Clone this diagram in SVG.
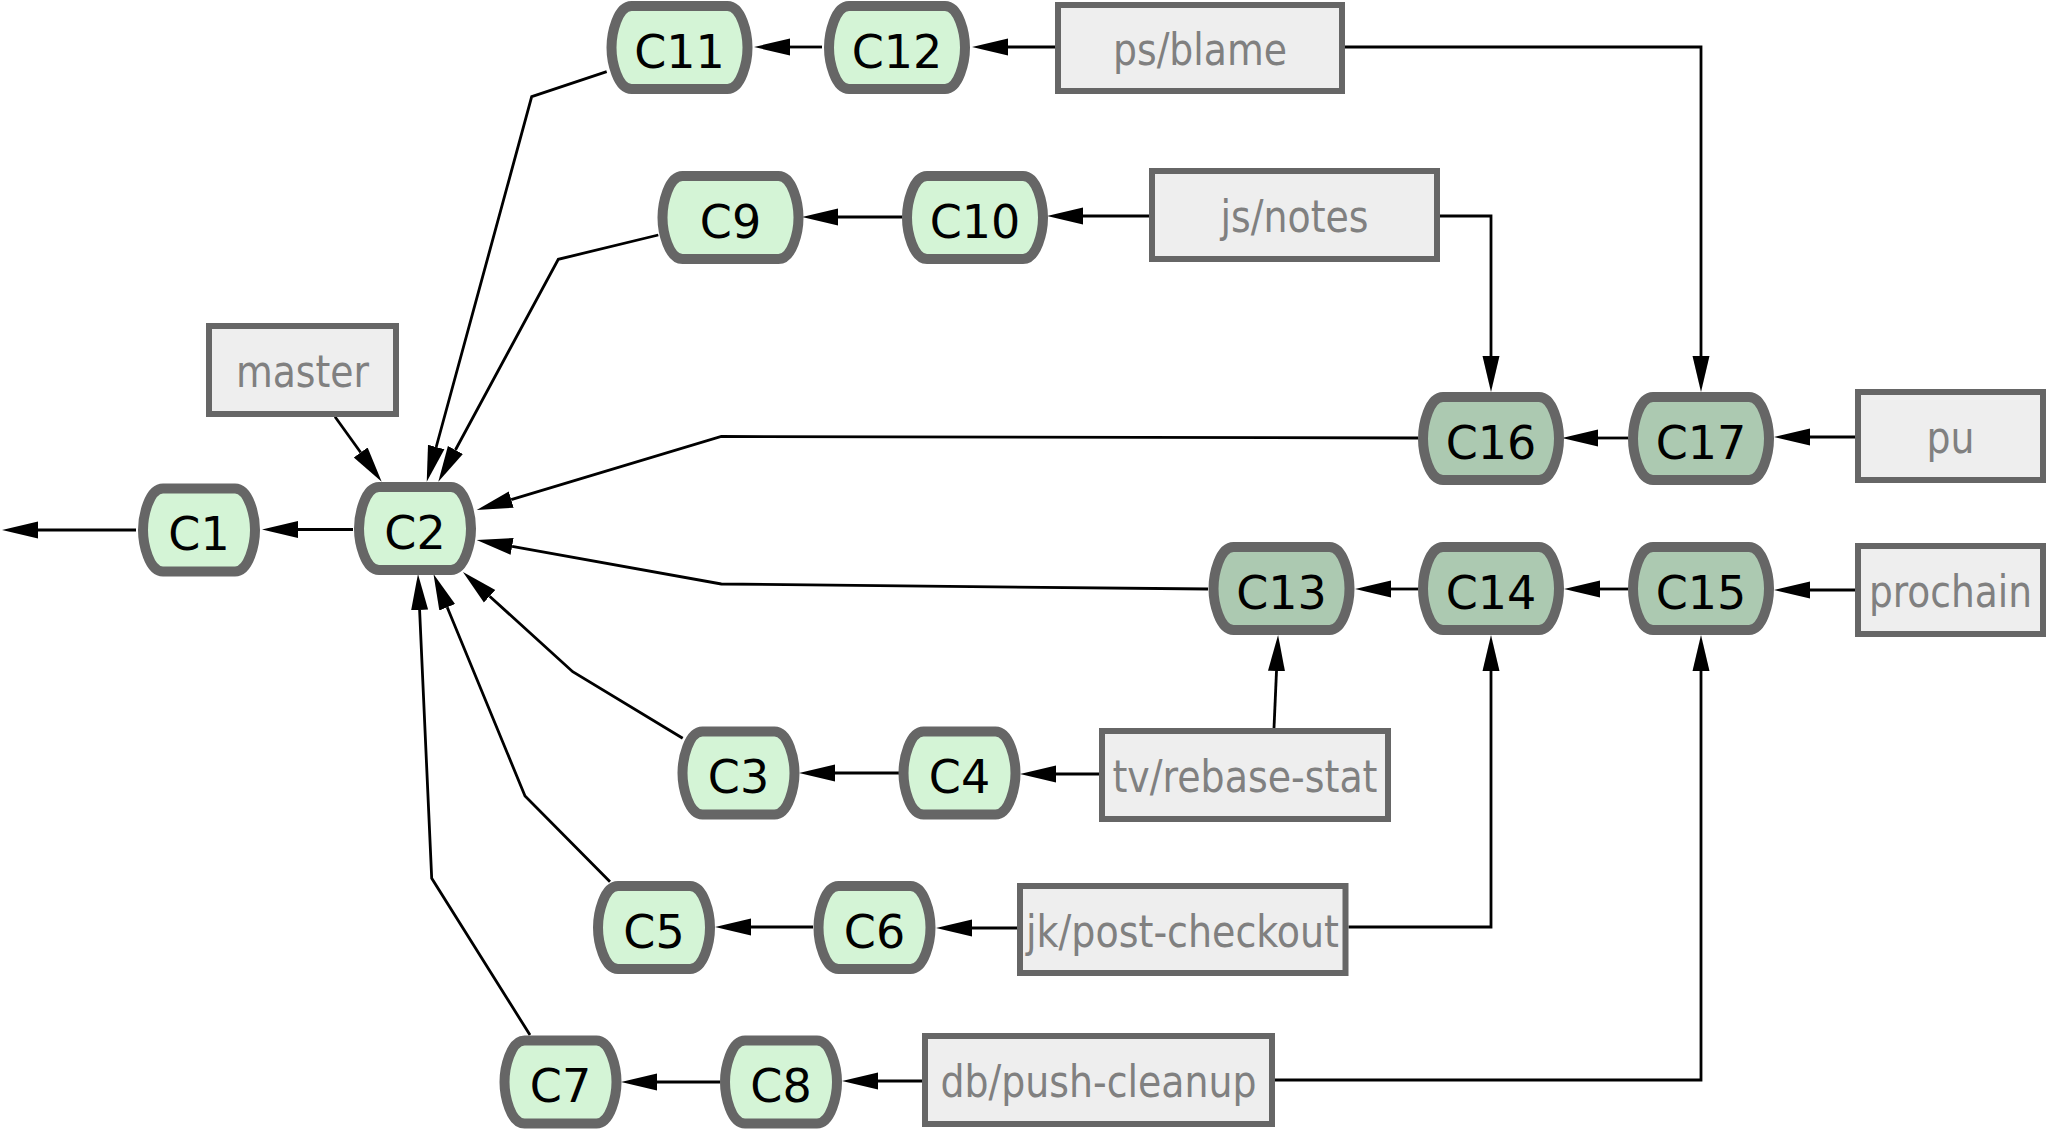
<svg xmlns="http://www.w3.org/2000/svg" xmlns:xlink="http://www.w3.org/1999/xlink" width="2049" height="1129" viewBox="0 0 2049 1129">
<style>
.commit{stroke:#666666;stroke-width:10;}
.light{fill:#d4f4d6;}
.dark{fill:#acc9b1;}
.ctext{font-family:"DejaVu Sans","Liberation Sans",sans-serif;font-size:46px;fill:#000000;text-anchor:middle;}
.lbox{fill:#eeeeee;stroke:#666666;stroke-width:6;}
.ltext{font-family:"DejaVu Sans Condensed","DejaVu Sans","Liberation Sans Narrow",sans-serif;font-stretch:condensed;font-size:44px;fill:#808080;text-anchor:middle;}
.edge{fill:none;stroke:#000000;stroke-width:2.8;marker-end:url(#arrow);}
</style>
<defs>
<marker id="arrow" markerUnits="userSpaceOnUse" viewBox="0 -10 40 20" markerWidth="40" markerHeight="20" refX="0" refY="0" orient="auto">
<path d="M0,-8.5 L36,0 L0,8.5 Z" fill="#000000"/>
</marker>
<path id="ns" d="M-36,-41.5 H36 C50,-41.5 56,-14 56,0 C56,14 50,41.5 36,41.5 H-36 C-50,41.5 -56,14 -56,0 C-56,-14 -50,-41.5 -36,-41.5 Z"/>
<path id="nw" d="M-48,-41.5 H48 C62,-41.5 68,-14 68,0 C68,14 62,41.5 48,41.5 H-48 C-62,41.5 -68,14 -68,0 C-68,-14 -62,-41.5 -48,-41.5 Z"/>
</defs>
<rect x="0" y="0" width="2049" height="1129" fill="#ffffff"/>

<g id="connectors">
<path class="edge" d="M136,530 L38,530"/>
<path class="edge" d="M353,529.5 L298,529.5"/>
<path class="edge" d="M335,416.7 L360.7,452.5"/>
<path class="edge" d="M606.7,71.7 L531.7,96.7 L436.2,447"/>
<path class="edge" d="M658.3,235 L558.3,259.3 L455.4,450"/>
<path class="edge" d="M1418,438 L721.3,436.5 L511.2,499.6"/>
<path class="edge" d="M1208,589 L721.3,584 L512.1,546.4"/>
<path class="edge" d="M682.7,738.3 L572.7,671.7 L489.6,596.2"/>
<path class="edge" d="M610,881.7 L525,796 L447.2,607.3"/>
<path class="edge" d="M530,1035 L431.7,878.3 L419.6,610"/>
<path class="edge" d="M822,47 L790,47"/>
<path class="edge" d="M1055,47 L1008,47"/>
<path class="edge" d="M1345,47 L1701,47 L1701,356"/>
<path class="edge" d="M902.5,217 L838,217"/>
<path class="edge" d="M1149,216 L1083,216"/>
<path class="edge" d="M1440,216 L1491,216 L1491,356"/>
<path class="edge" d="M1628,438 L1598,438"/>
<path class="edge" d="M1855,437 L1810,437"/>
<path class="edge" d="M1418,589 L1391,589"/>
<path class="edge" d="M1628,589 L1600,589"/>
<path class="edge" d="M1855,590 L1810,590"/>
<path class="edge" d="M1274,728 L1276.5,671"/>
<path class="edge" d="M899,773 L835,773"/>
<path class="edge" d="M1099,774 L1056,774"/>
<path class="edge" d="M1348.5,927 L1491,927 L1491,671"/>
<path class="edge" d="M813,927 L751,927"/>
<path class="edge" d="M1017,928 L972,928"/>
<path class="edge" d="M1275,1080 L1701,1080 L1701,671"/>
<path class="edge" d="M720,1082 L657,1082"/>
<path class="edge" d="M922,1081 L878,1081"/>
</g>

<g id="C1"><use xlink:href="#ns" href="#ns" class="commit light" transform="translate(199,530)"/><text class="ctext" x="199" y="550">C1</text></g>
<g id="C2"><use xlink:href="#ns" href="#ns" class="commit light" transform="translate(415,528.5)"/><text class="ctext" x="415" y="548.5">C2</text></g>
<g id="C3"><use xlink:href="#ns" href="#ns" class="commit light" transform="translate(738.5,773)"/><text class="ctext" x="738.5" y="793">C3</text></g>
<g id="C4"><use xlink:href="#ns" href="#ns" class="commit light" transform="translate(959.5,773)"/><text class="ctext" x="959.5" y="793">C4</text></g>
<g id="C5"><use xlink:href="#ns" href="#ns" class="commit light" transform="translate(654,927.5)"/><text class="ctext" x="654" y="947.5">C5</text></g>
<g id="C6"><use xlink:href="#ns" href="#ns" class="commit light" transform="translate(874.5,927.5)"/><text class="ctext" x="874.5" y="947.5">C6</text></g>
<g id="C7"><use xlink:href="#ns" href="#ns" class="commit light" transform="translate(560.5,1082)"/><text class="ctext" x="560.5" y="1102">C7</text></g>
<g id="C8"><use xlink:href="#ns" href="#ns" class="commit light" transform="translate(781,1082)"/><text class="ctext" x="781" y="1102">C8</text></g>
<g id="C9"><use xlink:href="#nw" href="#nw" class="commit light" transform="translate(730.5,217.5)"/><text class="ctext" x="730.5" y="237.5">C9</text></g>
<g id="C10"><use xlink:href="#nw" href="#nw" class="commit light" transform="translate(975,217.5)"/><text class="ctext" x="975" y="237.5">C10</text></g>
<g id="C11"><use xlink:href="#nw" href="#nw" class="commit light" transform="translate(679.5,47.5)"/><text class="ctext" x="679.5" y="67.5">C11</text></g>
<g id="C12"><use xlink:href="#nw" href="#nw" class="commit light" transform="translate(897,47.5)"/><text class="ctext" x="897" y="67.5">C12</text></g>
<g id="C13"><use xlink:href="#nw" href="#nw" class="commit dark" transform="translate(1281.5,588.5)"/><text class="ctext" x="1281.5" y="608.5">C13</text></g>
<g id="C14"><use xlink:href="#nw" href="#nw" class="commit dark" transform="translate(1491,588.5)"/><text class="ctext" x="1491" y="608.5">C14</text></g>
<g id="C15"><use xlink:href="#nw" href="#nw" class="commit dark" transform="translate(1701,588.5)"/><text class="ctext" x="1701" y="608.5">C15</text></g>
<g id="C16"><use xlink:href="#nw" href="#nw" class="commit dark" transform="translate(1491,438.5)"/><text class="ctext" x="1491" y="458.5">C16</text></g>
<g id="C17"><use xlink:href="#nw" href="#nw" class="commit dark" transform="translate(1701,438.5)"/><text class="ctext" x="1701" y="458.5">C17</text></g>

<g id="master"><rect class="lbox" x="209" y="326" width="187" height="88"/><text class="ltext" x="302.5" y="387" textLength="133" lengthAdjust="spacingAndGlyphs">master</text></g>
<g id="ps-blame"><rect class="lbox" x="1058" y="5" width="284" height="86"/><text class="ltext" x="1200" y="65" textLength="174" lengthAdjust="spacingAndGlyphs">ps/blame</text></g>
<g id="js-notes"><rect class="lbox" x="1152" y="171" width="285" height="88"/><text class="ltext" x="1294.5" y="232" textLength="148" lengthAdjust="spacingAndGlyphs">js/notes</text></g>
<g id="pu"><rect class="lbox" x="1858" y="392" width="185" height="88"/><text class="ltext" x="1950.5" y="453" textLength="48" lengthAdjust="spacingAndGlyphs">pu</text></g>
<g id="prochain"><rect class="lbox" x="1858" y="546" width="185" height="88"/><text class="ltext" x="1950.5" y="607" textLength="163" lengthAdjust="spacingAndGlyphs">prochain</text></g>
<g id="tv-rebase-stat"><rect class="lbox" x="1102" y="731" width="286" height="88"/><text class="ltext" x="1245" y="792" textLength="265" lengthAdjust="spacingAndGlyphs">tv/rebase-stat</text></g>
<g id="jk-post-checkout"><rect class="lbox" x="1020" y="886" width="325.5" height="87"/><text class="ltext" x="1182.5" y="946.5" textLength="313" lengthAdjust="spacingAndGlyphs">jk/post-checkout</text></g>
<g id="db-push-cleanup"><rect class="lbox" x="925" y="1036" width="347" height="88"/><text class="ltext" x="1098.5" y="1097" textLength="316" lengthAdjust="spacingAndGlyphs">db/push-cleanup</text></g>
</svg>
